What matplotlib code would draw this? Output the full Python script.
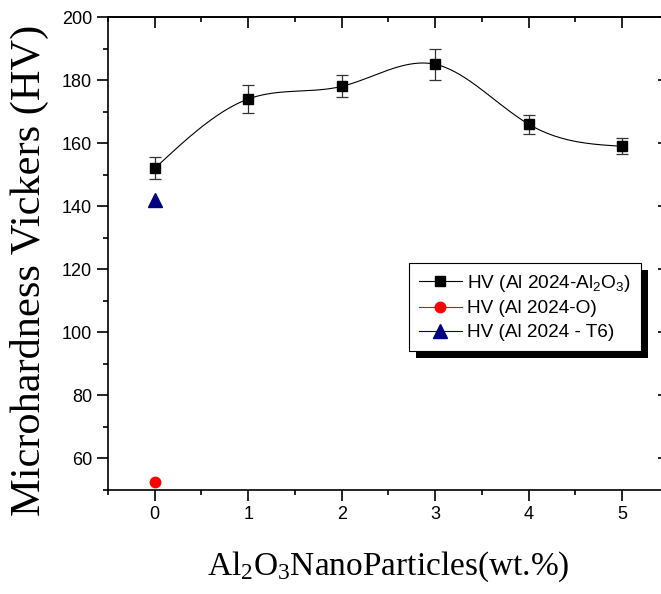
import numpy as np
import matplotlib
matplotlib.use('Agg')
import matplotlib.pyplot as plt
from matplotlib.patches import Rectangle
from matplotlib.ticker import MultipleLocator, NullFormatter

# data
wt = [0, 1, 2, 3, 4, 5]
hv_al2o3 = [152, 174, 178, 185, 166, 159]
hv_err = [3.5, 4.5, 3.5, 5, 3, 2.5]
wt_o = [0]
hv_o = [52.5]
wt_t6 = [0]
hv_t6 = [142]


def natural_spline(x, y, n=300):
    # natural cubic spline, only used to draw the smooth connecting line
    x = np.asarray(x, float)
    y = np.asarray(y, float)
    k = len(x)
    h = np.diff(x)
    A = np.zeros((k, k))
    b = np.zeros(k)
    A[0, 0] = A[-1, -1] = 1
    for i in range(1, k - 1):
        A[i, i - 1] = h[i - 1]
        A[i, i] = 2 * (h[i - 1] + h[i])
        A[i, i + 1] = h[i]
        b[i] = 6 * ((y[i + 1] - y[i]) / h[i] - (y[i] - y[i - 1]) / h[i - 1])
    m = np.linalg.solve(A, b)
    xs = np.linspace(x[0], x[-1], n)
    idx = np.clip(np.searchsorted(x, xs) - 1, 0, k - 2)
    t = xs - x[idx]
    hi = h[idx]
    a = (m[idx + 1] - m[idx]) / (6 * hi)
    bb = m[idx] / 2
    c = (y[idx + 1] - y[idx]) / hi - hi * (2 * m[idx] + m[idx + 1]) / 6
    ys = y[idx] + c * t + bb * t ** 2 + a * t ** 3
    return xs, ys


fig = plt.figure(figsize=(6.61, 5.94), dpi=100)
ax = fig.add_axes([108 / 661, 104 / 594, 561 / 661, 473 / 594])

xs, ys = natural_spline(wt, hv_al2o3)
ax.plot(xs, ys, color='black', lw=0.8, zorder=2)
ax.errorbar(wt, hv_al2o3, yerr=hv_err, fmt='none', ecolor='#333333',
            elinewidth=0.9, capsize=4.5, capthick=0.9, zorder=3)
ax.plot(wt, hv_al2o3, 's', color='black', ms=7, zorder=4)
ax.plot(wt_o, hv_o, 'o', color='#ff0000', ms=7.5, zorder=4)
ax.plot(wt_t6, hv_t6, '^', color='#000080', ms=9.5, zorder=4)

# legend handles (line + marker)
h1, = ax.plot([], [], '-s', color='black', ms=7, lw=0.8,
              label='HV (Al 2024-Al$\\mathregular{_2}$O$\\mathregular{_3}$)')
h2, = ax.plot([], [], '-o', color='#ff0000', ms=7.5, lw=0.8, label='HV (Al 2024-O)')
h3, = ax.plot([], [], '-^', color='#000080', ms=9.5, lw=0.8, label='HV (Al 2024 - T6)')

ax.set_xlim(-0.5, 5.5)
ax.set_ylim(50, 200)
ax.set_xticks(wt)
ax.set_yticks(np.arange(60, 201, 20))
ax.xaxis.set_minor_locator(MultipleLocator(0.5))
ax.yaxis.set_minor_locator(MultipleLocator(10))
ax.tick_params(which='both', direction='out', width=1.2)
ax.tick_params(which='major', length=8, labelsize=13)
ax.tick_params(which='minor', length=3.6)
for lab in ax.get_xticklabels() + ax.get_yticklabels():
    lab.set_fontfamily('Liberation Sans')
for sp in ax.spines.values():
    sp.set_linewidth(1.2)

# top and right ticks point inward
top = ax.secondary_xaxis('top')
top.set_xticks(wt)
top.xaxis.set_minor_locator(MultipleLocator(0.5))
top.xaxis.set_major_formatter(NullFormatter())
top.tick_params(which='both', direction='in', width=1.2)
top.tick_params(which='major', length=8)
top.tick_params(which='minor', length=3.6)
right = ax.secondary_yaxis('right')
right.set_yticks(np.arange(60, 201, 20))
right.yaxis.set_minor_locator(MultipleLocator(10))
right.yaxis.set_major_formatter(NullFormatter())
right.tick_params(which='both', direction='in', width=1.2)
right.tick_params(which='major', length=8)
right.tick_params(which='minor', length=3.6)
top.spines['top'].set_linewidth(1.2)
right.spines['right'].set_linewidth(1.2)

ax.set_ylabel('Microhardness Vickers (HV)', fontfamily='Liberation Serif', fontsize=30.5)
ax.yaxis.set_label_coords(-0.105, 0.465)
ax.set_xlabel('Al$\\mathregular{_2}$O$\\mathregular{_3}$NanoParticles(wt.%)',
              fontfamily='Liberation Serif', fontsize=24, labelpad=19)

leg = ax.legend(handles=[h1, h2, h3], loc='upper left', bbox_to_anchor=(409 / 661, 1 - 263 / 594),
                bbox_transform=fig.transFigure, borderaxespad=0, fancybox=False, framealpha=1,
                edgecolor='black', prop={'family': 'Liberation Sans', 'size': 13.7},
                handlelength=2.3, handletextpad=0.27, labelspacing=0.35, borderpad=0.5)
leg.get_frame().set_linewidth(0.8)
leg.set_zorder(6)

fig.canvas.draw()
bb = leg.get_window_extent()
ax.add_patch(Rectangle((bb.x0 + 7, bb.y0 - 7), bb.width, bb.height, transform=None,
                       facecolor='black', edgecolor='none', zorder=5.5, clip_on=False))

fig.savefig('out.png', dpi=100)
